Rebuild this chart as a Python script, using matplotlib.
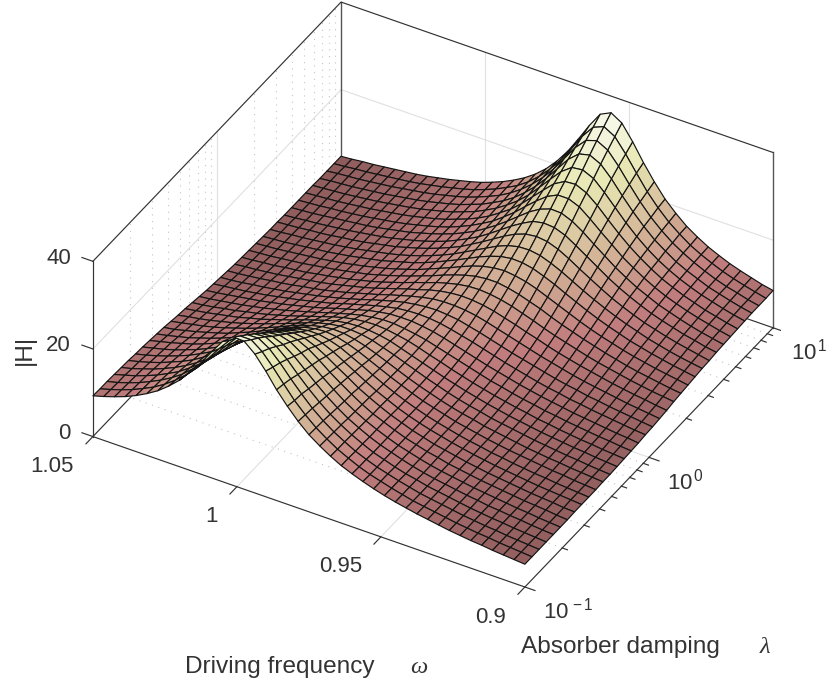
import numpy as np
import matplotlib
matplotlib.use("Agg")
import matplotlib.pyplot as plt
from mpl_toolkits.mplot3d import proj3d

plt.rcParams['font.family'] = ['Liberation Sans', 'DejaVu Sans']
plt.rcParams['mathtext.fontset'] = 'custom'
plt.rcParams['mathtext.rm'] = 'Liberation Sans'
plt.rcParams['mathtext.it'] = 'Liberation Serif:italic'
plt.rcParams['mathtext.bf'] = 'Liberation Sans:bold'

omega_grid = np.linspace(1.05, 0.9, 41)
log_lambda_grid = np.linspace(-1, 1, 36)

# |H| read from the surface: one row per lambda, one column per omega
H_values = [
[9.3,10.0,10.8,11.7,12.8,14.1,15.6,17.5,19.7,22.4,25.4,28.8,32.0,33.9,33.8,31.7,28.7,25.3,22.4,19.8,17.6,15.9,14.4,13.1,12.1,11.2,10.4,9.7,9.1,8.6,8.1,7.7,7.3,6.9,6.6,6.3,6.1,5.8,5.6,5.4,5.2],
[9.2,9.9,10.7,11.6,12.7,13.9,15.4,17.2,19.3,21.8,24.7,27.8,30.6,32.4,32.4,30.6,27.9,24.9,22.0,19.6,17.5,15.8,14.3,13.1,12.0,11.1,10.4,9.7,9.1,8.5,8.1,7.7,7.3,6.9,6.6,6.3,6.1,5.8,5.6,5.4,5.2],
[9.2,9.8,10.6,11.5,12.6,13.8,15.2,16.9,19.0,21.3,24.0,26.8,29.5,31.0,31.1,29.6,27.2,24.4,21.8,19.4,17.4,15.7,14.3,13.0,12.0,11.1,10.4,9.7,9.1,8.5,8.1,7.7,7.3,6.9,6.6,6.3,6.1,5.8,5.6,5.4,5.2],
[9.1,9.8,10.5,11.4,12.4,13.6,14.9,16.6,18.4,20.6,23.1,25.7,28.1,29.5,29.7,28.4,26.3,23.7,21.3,19.1,17.2,15.6,14.2,13.0,11.9,11.1,10.3,9.6,9.1,8.5,8.1,7.7,7.3,6.9,6.6,6.3,6.1,5.8,5.6,5.4,5.2],
[9.0,9.6,10.4,11.2,12.2,13.3,14.6,16.1,17.9,19.9,22.1,24.5,26.5,27.9,28.1,27.1,25.3,23.1,20.9,18.8,17.0,15.4,14.1,12.9,11.9,11.1,10.3,9.6,9.0,8.5,8.1,7.7,7.3,7.0,6.6,6.4,6.1,5.9,5.6,5.4,5.2],
[8.9,9.5,10.2,11.0,12.0,13.0,14.2,15.7,17.3,19.2,21.2,23.3,25.2,26.4,26.7,26.0,24.4,22.5,20.5,18.6,16.8,15.3,14.0,12.9,11.9,11.0,10.3,9.6,9.0,8.5,8.1,7.7,7.3,7.0,6.7,6.4,6.1,5.9,5.6,5.4,5.2],
[8.7,9.3,10.0,10.8,11.7,12.7,13.9,15.2,16.7,18.4,20.2,22.1,23.8,24.9,25.3,24.8,23.6,21.9,20.0,18.3,16.7,15.2,13.9,12.9,11.9,11.0,10.3,9.6,9.1,8.5,8.1,7.7,7.3,7.0,6.7,6.4,6.1,5.9,5.7,5.4,5.2],
[8.6,9.2,9.8,10.5,11.4,12.3,13.4,14.6,16.0,17.5,19.2,20.8,22.3,23.4,23.8,23.5,22.5,21.1,19.5,18.0,16.4,15.1,13.9,12.8,11.9,11.0,10.3,9.6,9.1,8.6,8.1,7.7,7.3,7.0,6.7,6.4,6.1,5.9,5.7,5.4,5.3],
[8.4,9.0,9.6,10.3,11.0,11.9,12.9,14.0,15.3,16.7,18.1,19.6,20.9,21.9,22.4,22.3,21.5,20.4,19.0,17.6,16.2,14.9,13.8,12.7,11.8,11.0,10.3,9.7,9.1,8.6,8.1,7.7,7.3,7.0,6.7,6.4,6.1,5.9,5.7,5.5,5.3],
[8.2,8.7,9.3,9.9,10.7,11.5,12.4,13.4,14.5,15.8,17.1,18.3,19.6,20.5,21.0,21.0,20.5,19.7,18.5,17.3,16.0,14.8,13.7,12.7,11.8,11.0,10.3,9.7,9.1,8.6,8.2,7.7,7.4,7.0,6.7,6.4,6.2,5.9,5.7,5.5,5.3],
[8.0,8.4,9.0,9.6,10.3,11.0,11.8,12.8,13.8,14.9,16.0,17.2,18.3,19.2,19.7,19.9,19.6,18.9,18.0,16.9,15.8,14.7,13.7,12.7,11.8,11.1,10.4,9.7,9.2,8.7,8.2,7.8,7.4,7.1,6.8,6.5,6.2,6.0,5.7,5.5,5.3],
[7.7,8.2,8.7,9.2,9.8,10.5,11.3,12.1,13.0,14.0,15.0,16.1,17.1,17.9,18.5,18.8,18.7,18.2,17.5,16.6,15.6,14.6,13.6,12.7,11.9,11.1,10.4,9.8,9.3,8.7,8.3,7.9,7.5,7.1,6.8,6.5,6.3,6.0,5.8,5.6,5.4],
[7.4,7.9,8.3,8.8,9.4,10.0,10.7,11.5,12.3,13.2,14.1,15.0,16.0,16.8,17.4,17.8,17.8,17.6,17.1,16.3,15.5,14.6,13.7,12.8,12.0,11.2,10.5,9.9,9.4,8.8,8.4,8.0,7.6,7.2,6.9,6.6,6.3,6.1,5.8,5.6,5.4],
[7.2,7.6,8.0,8.5,9.0,9.5,10.2,10.8,11.6,12.4,13.2,14.1,14.9,15.7,16.4,16.8,17.0,16.9,16.6,16.1,15.3,14.5,13.7,12.9,12.1,11.4,10.7,10.1,9.5,9.0,8.5,8.1,7.7,7.3,7.0,6.7,6.4,6.2,5.9,5.7,5.5],
[6.9,7.2,7.6,8.1,8.5,9.1,9.6,10.2,10.9,11.6,12.4,13.2,14.0,14.8,15.5,16.0,16.3,16.4,16.2,15.8,15.3,14.6,13.8,13.1,12.3,11.6,10.9,10.3,9.7,9.2,8.7,8.3,7.8,7.5,7.1,6.8,6.5,6.3,6.0,5.8,5.6],
[6.6,6.9,7.3,7.7,8.1,8.6,9.1,9.7,10.3,11.0,11.7,12.4,13.2,13.9,14.6,15.2,15.6,15.9,15.9,15.6,15.2,14.7,14.0,13.3,12.6,11.9,11.2,10.5,10.0,9.4,8.9,8.5,8.0,7.7,7.3,7.0,6.7,6.4,6.2,5.9,5.7],
[6.3,6.6,7.0,7.4,7.8,8.2,8.7,9.2,9.8,10.4,11.0,11.7,12.5,13.2,13.9,14.6,15.1,15.5,15.6,15.6,15.3,14.9,14.3,13.6,12.9,12.2,11.5,10.9,10.3,9.7,9.2,8.7,8.3,7.9,7.5,7.2,6.9,6.6,6.3,6.1,5.8],
[6.1,6.4,6.7,7.0,7.4,7.8,8.3,8.8,9.3,9.9,10.5,11.1,11.9,12.6,13.3,14.0,14.6,15.1,15.4,15.5,15.4,15.1,14.6,14.0,13.4,12.7,12.0,11.3,10.7,10.1,9.5,9.0,8.6,8.1,7.8,7.4,7.1,6.8,6.5,6.2,6.0],
[5.9,6.1,6.4,6.8,7.1,7.5,7.9,8.4,8.9,9.4,10.0,10.6,11.3,12.0,12.8,13.5,14.2,14.8,15.2,15.5,15.6,15.4,15.1,14.5,13.9,13.2,12.5,11.8,11.2,10.6,10.0,9.4,8.9,8.5,8.0,7.7,7.3,7.0,6.7,6.4,6.1],
[5.7,5.9,6.2,6.5,6.9,7.2,7.6,8.1,8.5,9.0,9.6,10.2,10.9,11.6,12.3,13.1,13.8,14.5,15.1,15.6,15.8,15.8,15.6,15.2,14.6,13.9,13.2,12.5,11.8,11.1,10.5,9.9,9.3,8.8,8.4,8.0,7.6,7.2,6.9,6.6,6.3],
[5.5,5.8,6.0,6.3,6.6,7.0,7.4,7.8,8.2,8.7,9.3,9.9,10.5,11.2,12.0,12.8,13.6,14.3,15.1,15.7,16.1,16.3,16.2,15.9,15.4,14.7,14.0,13.2,12.5,11.7,11.0,10.4,9.8,9.3,8.8,8.3,7.9,7.5,7.2,6.8,6.5],
[5.4,5.6,5.9,6.1,6.5,6.8,7.1,7.6,8.0,8.5,9.0,9.6,10.2,10.9,11.7,12.5,13.4,14.2,15.1,15.8,16.4,16.8,16.9,16.7,16.3,15.7,14.9,14.1,13.2,12.4,11.7,11.0,10.3,9.7,9.2,8.7,8.2,7.8,7.4,7.1,6.8],
[5.3,5.5,5.7,6.0,6.3,6.6,7.0,7.4,7.8,8.3,8.8,9.3,10.0,10.7,11.5,12.3,13.2,14.1,15.1,16.0,16.8,17.4,17.7,17.7,17.3,16.7,15.9,15.1,14.1,13.2,12.4,11.6,10.9,10.2,9.6,9.0,8.5,8.1,7.7,7.3,7.0],
[5.2,5.4,5.6,5.9,6.2,6.5,6.8,7.2,7.6,8.1,8.6,9.2,9.8,10.5,11.3,12.1,13.1,14.1,15.1,16.2,17.2,18.0,18.5,18.7,18.4,17.9,17.1,16.1,15.1,14.1,13.1,12.2,11.4,10.7,10.0,9.4,8.9,8.4,8.0,7.6,7.2],
[5.1,5.3,5.5,5.8,6.1,6.4,6.7,7.1,7.5,8.0,8.5,9.0,9.7,10.4,11.1,12.0,13.0,14.1,15.2,16.4,17.6,18.6,19.4,19.8,19.7,19.2,18.3,17.3,16.1,15.0,13.9,12.9,12.0,11.2,10.4,9.8,9.2,8.7,8.2,7.8,7.4],
[5.0,5.2,5.5,5.7,6.0,6.3,6.6,7.0,7.4,7.9,8.4,8.9,9.5,10.2,11.0,11.9,12.9,14.0,15.3,16.6,17.9,19.2,20.2,20.8,20.9,20.5,19.6,18.5,17.2,15.9,14.7,13.6,12.6,11.7,10.9,10.1,9.5,8.9,8.4,8.0,7.6],
[5.0,5.2,5.4,5.7,5.9,6.2,6.6,6.9,7.3,7.8,8.3,8.8,9.5,10.2,11.0,11.9,12.9,14.0,15.4,16.8,18.3,19.8,21.1,22.0,22.3,22.0,21.1,19.8,18.3,16.9,15.5,14.2,13.1,12.1,11.2,10.5,9.8,9.2,8.7,8.2,7.7],
[4.9,5.1,5.4,5.6,5.9,6.2,6.5,6.9,7.3,7.7,8.2,8.8,9.4,10.1,10.9,11.8,12.9,14.1,15.4,17.0,18.7,20.4,21.9,23.2,23.7,23.5,22.6,21.1,19.5,17.9,16.3,14.9,13.7,12.6,11.6,10.8,10.1,9.4,8.9,8.3,7.9],
[4.9,5.1,5.3,5.6,5.9,6.2,6.5,6.8,7.2,7.7,8.2,8.7,9.4,10.1,10.9,11.8,12.9,14.1,15.6,17.2,19.0,20.9,22.8,24.3,25.2,25.1,24.1,22.5,20.6,18.8,17.0,15.5,14.1,13.0,11.9,11.1,10.3,9.6,9.0,8.5,8.0],
[4.9,5.1,5.3,5.6,5.8,6.1,6.4,6.8,7.2,7.6,8.1,8.7,9.3,10.0,10.8,11.8,12.9,14.2,15.6,17.4,19.3,21.5,23.6,25.5,26.7,26.7,25.7,23.8,21.7,19.7,17.7,16.1,14.6,13.3,12.2,11.3,10.5,9.8,9.2,8.6,8.1],
[4.9,5.1,5.3,5.5,5.8,6.1,6.4,6.8,7.2,7.6,8.1,8.7,9.3,10.0,10.9,11.8,12.9,14.2,15.8,17.5,19.6,22.0,24.4,26.7,28.1,28.3,27.2,25.2,22.8,20.5,18.4,16.6,15.0,13.6,12.5,11.5,10.7,9.9,9.3,8.7,8.2],
[4.9,5.1,5.3,5.5,5.8,6.1,6.4,6.8,7.2,7.6,8.1,8.7,9.3,10.0,10.9,11.8,13.0,14.3,15.9,17.7,19.9,22.5,25.2,27.8,29.6,29.9,28.8,26.5,23.9,21.3,19.0,17.0,15.3,13.9,12.7,11.7,10.8,10.1,9.4,8.8,8.3],
[4.8,5.1,5.3,5.5,5.8,6.1,6.4,6.8,7.2,7.6,8.1,8.7,9.3,10.0,10.9,11.8,13.0,14.3,15.9,17.9,20.2,22.9,25.9,28.9,31.0,31.6,30.4,27.9,24.9,22.1,19.6,17.4,15.7,14.1,12.9,11.9,10.9,10.2,9.5,8.9,8.4],
[4.8,5.1,5.3,5.5,5.8,6.1,6.4,6.8,7.2,7.6,8.1,8.7,9.3,10.0,10.9,11.9,13.0,14.4,16.1,18.1,20.5,23.3,26.6,29.9,32.4,33.2,31.9,29.1,25.8,22.7,20.0,17.8,15.9,14.4,13.1,12.0,11.0,10.2,9.6,8.9,8.4],
[4.8,5.0,5.3,5.5,5.8,6.1,6.4,6.7,7.1,7.6,8.1,8.7,9.3,10.0,10.9,11.9,13.1,14.4,16.1,18.2,20.7,23.7,27.1,30.8,33.7,34.7,33.3,30.2,26.7,23.3,20.5,18.1,16.2,14.5,13.2,12.1,11.1,10.3,9.6,9.0,8.4],
[4.8,5.0,5.3,5.5,5.8,6.1,6.4,6.7,7.1,7.6,8.1,8.7,9.3,10.0,10.9,11.9,13.1,14.5,16.2,18.3,20.9,24.0,27.7,31.6,35.0,36.2,34.7,31.3,27.4,23.9,20.8,18.4,16.3,14.7,13.3,12.2,11.2,10.4,9.7,9.0,8.5],
]

omega_ticks = [1.05, 1.0, 0.95, 0.9]
omega_tick_labels = ['1.05', '1', '0.95', '0.9']
log_lambda_ticks = [-1, 0, 1]
lambda_tick_labels = [r'$\mathregular{10^{\,-1}}$', r'$\mathregular{10^{\,0}}$', r'$\mathregular{10^{\,1}}$']
log_lambda_minor = [np.log10(k * d) for d in (0.1, 1.0) for k in range(2, 10)]
z_ticks = [0, 20, 40]
z_tick_labels = ['0', '20', '40']

W, Ht = 831, 683
fig = plt.figure(figsize=(W / 100, Ht / 100), dpi=100, facecolor='white')
S = 715.6
ax = fig.add_axes([65.5 / W, 21 / Ht, S / W, S / Ht], projection='3d')
ax.set_proj_type('ortho')
ax.view_init(elev=37.1, azim=-150)
ax.set_box_aspect((496, 498.5, 219.6))
ax.set_xlim(-1, 1)
ax.set_ylim(0.9, 1.05)
ax.set_zlim(0, 40)
ax.set_axis_off()
ax.patch.set_visible(False)

xmin, xmax, ymin, ymax, zmin, zmax = -1, 1, 0.9, 1.05, 0, 40
dark = '#333333'
major = dict(color='#e0e0e0', lw=0.8)
minor = dict(color='#c4c4c4', lw=0.8, linestyle=(0, (1, 5)))
edge = dict(color=dark, lw=0.85)

# grid on the walls and the floor
for z in z_ticks[1:-1]:
    ax.plot([xmax, xmax], [ymax, ymin], [z, z], **major)
    ax.plot([xmin, xmax], [ymax, ymax], [z, z], **major)
for y in omega_ticks[1:-1]:
    ax.plot([xmin, xmax], [y, y], [0, 0], **major)
    ax.plot([xmax, xmax], [y, y], [0, 40], **major)
for x in log_lambda_ticks[1:-1]:
    ax.plot([x, x], [ymin, ymax], [0, 0], **major)
    ax.plot([x, x], [ymax, ymax], [0, 40], **major)
for x in log_lambda_minor:
    ax.plot([x, x], [ymin, ymax], [0, 0], **minor)
    ax.plot([x, x], [ymax, ymax], [0, 40], **minor)

# box
ax.plot([xmin, xmin], [ymax, ymax], [0, 40], **edge)
ax.plot([xmax, xmax], [ymax, ymax], [0, 40], color='#555555', lw=1.0)
ax.plot([xmax, xmax], [ymin, ymin], [0, 40], color='#555555', lw=1.0)
ax.plot([xmin, xmax, xmax], [ymax, ymax, ymin], [40, 40, 40], **edge)
ax.plot([xmin, xmax, xmax], [ymax, ymax, ymin], [0, 0, 0], **edge)
ax.plot([xmin, xmin, xmax], [ymax, ymin, ymin], [0, 0, 0], **edge)

# tick marks
for z in z_ticks:
    ax.plot([xmin, xmin], [ymax, ymax + 0.0038], [z, z], **edge)
for y in omega_ticks:
    ax.plot([xmin, xmin - 0.056], [y, y], [0, 0], **edge)
for x in log_lambda_ticks:
    ax.plot([x, x], [ymin, ymin - 0.0035], [0, 0], **edge)
for x in log_lambda_minor:
    ax.plot([x, x], [ymin, ymin - 0.0018], [0, 0], **edge)

LX, OM = np.meshgrid(log_lambda_grid, omega_grid, indexing='ij')
ax.plot_surface(LX, OM, np.array(H_values), rstride=1, cstride=1, cmap='pink',
                vmin=-3.5, vmax=39, edgecolor='#141414', linewidth=0.85,
                antialiased=True, shade=False)

txt = '#333333'
fs = 16
fs_label = 17.6
M = ax.get_proj()


def tick_label(x, y, z, s, dx, dy, ha):
    px, py, _ = proj3d.proj_transform(x, y, z, M)
    ax.annotate(s, xy=(px, py), xytext=(dx, dy), textcoords='offset pixels',
                ha=ha, va='center', fontsize=fs, color=txt, annotation_clip=False)


for z, s in zip(z_ticks, z_tick_labels):
    tick_label(xmin, ymax, z, s, -22, 3, 'right')
for y, s in zip(omega_ticks, omega_tick_labels):
    tick_label(xmin, y, 0, s, -19, -30, 'right')
for x, s in zip(log_lambda_ticks, lambda_tick_labels):
    tick_label(x, ymin, 0, s, 18, -24, 'left')

fig.text(25 / W, 1 - 350 / Ht, '|H|', rotation=90, ha='center', va='center', fontsize=fs_label, color=txt)
fig.text(185 / W, 1 - 667 / Ht, 'Driving frequency', ha='left', va='center', fontsize=fs_label, color=txt)
fig.text(419 / W, 1 - 667 / Ht, r'$\omega$', ha='center', va='center', fontsize=fs_label, color=txt)
fig.text(521 / W, 1 - 647 / Ht, 'Absorber damping', ha='left', va='center', fontsize=fs_label, color=txt)
fig.text(765 / W, 1 - 647 / Ht, r'$\lambda$', ha='center', va='center', fontsize=fs_label, color=txt)

fig.savefig('out.png', dpi=100)
